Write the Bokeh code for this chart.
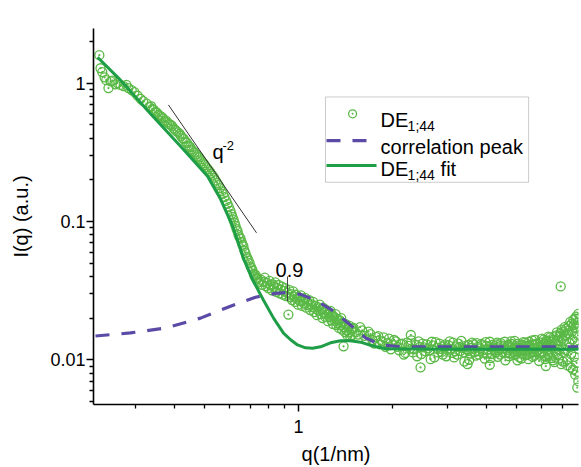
from bokeh.plotting import figure
from bokeh.models import Range1d, FixedTicker, CustomJSTickFormatter, Label, BoxAnnotation
from bokeh.embed import file_html
from bokeh.resources import INLINE

FONT = "Liberation Sans"

# ---------------- data ----------------
# measured points, low-q part
q_low = [0.230, 0.232, 0.235, 0.239, 0.242, 0.246, 0.250, 0.253, 0.259, 0.263,
         0.269, 0.275, 0.281, 0.285, 0.292, 0.298, 0.305, 0.312, 0.318, 0.326,
         0.333, 0.337, 0.340, 0.344, 0.348, 0.352, 0.356, 0.360, 0.364, 0.368,
         0.372, 0.376, 0.380, 0.385, 0.389, 0.393, 0.398, 0.402, 0.406, 0.411,
         0.416, 0.420, 0.425, 0.429, 0.434, 0.439, 0.444, 0.449, 0.454, 0.459,
         0.464, 0.470, 0.475, 0.480, 0.485, 0.490, 0.496, 0.501, 0.507, 0.513,
         0.519, 0.524, 0.530, 0.536, 0.542, 0.548, 0.554, 0.560, 0.567, 0.573,
         0.579, 0.586, 0.592, 0.598, 0.605, 0.610, 0.614, 0.619, 0.624, 0.628,
         0.633, 0.638, 0.642, 0.647, 0.652, 0.657, 0.661, 0.666, 0.671, 0.676,
         0.681, 0.686, 0.691, 0.697, 0.702, 0.707, 0.712, 0.718, 0.723, 0.728,
         0.733, 0.738, 0.744, 0.750]
I_low = [1.59, 1.28, 1.20, 1.10, 1.05, 0.92, 1.03, 1.04, 0.98, 1.00,
         0.97, 0.95, 0.97, 0.92, 0.89, 0.86, 0.81, 0.77, 0.74, 0.71,
         0.67, 0.68, 0.65, 0.64, 0.62, 0.61, 0.59, 0.58, 0.57, 0.555,
         0.53, 0.535, 0.52, 0.505, 0.50, 0.49, 0.47, 0.46, 0.45, 0.44,
         0.43, 0.415, 0.40, 0.395, 0.378, 0.37, 0.353, 0.345, 0.331, 0.322,
         0.315, 0.305, 0.295, 0.29, 0.281, 0.272, 0.263, 0.255, 0.246, 0.238,
         0.230, 0.222, 0.215, 0.207, 0.198, 0.19, 0.183, 0.174, 0.165, 0.158,
         0.150, 0.141, 0.134, 0.127, 0.119, 0.113, 0.108, 0.103, 0.0975, 0.093,
         0.088, 0.085, 0.080, 0.077, 0.075, 0.071, 0.068, 0.066, 0.0614, 0.059,
         0.0556, 0.054, 0.0521, 0.050, 0.0472, 0.046, 0.0442, 0.042, 0.0400, 0.041,
         0.0381, 0.039, 0.0362, 0.0365]

# measured points, shoulder region
q_mid = [0.757, 0.765, 0.772, 0.779, 0.786, 0.793, 0.800, 0.807, 0.814, 0.821,
         0.828, 0.835, 0.842, 0.849, 0.856, 0.863, 0.870, 0.877, 0.884, 0.891,
         0.898, 0.905, 0.912, 0.919, 0.928, 0.933, 0.940, 0.947, 0.954, 0.961,
         0.968, 0.975, 0.982, 0.989, 0.996, 1.003, 1.010, 1.018, 1.026, 1.034,
         1.042, 1.050, 1.058, 1.066, 1.074, 1.082, 1.090, 1.098, 1.106, 1.114,
         1.122, 1.130, 1.138, 1.146, 1.154, 1.162, 1.170, 1.178, 1.186, 1.194,
         1.202, 1.210, 1.218, 1.226, 1.234, 1.242, 1.250, 1.258, 1.266, 1.274,
         1.282, 1.290, 1.298, 1.306, 1.314, 1.322, 1.330, 1.338, 1.346, 1.354,
         1.362, 1.370, 1.378, 1.386, 1.394, 1.402, 1.410, 1.418, 1.426, 1.434,
         1.442, 1.450, 1.458, 1.466, 1.474, 1.482, 1.490]
I_mid = [0.0380, 0.0348, 0.0366, 0.0392, 0.0341, 0.0359, 0.0330, 0.0372, 0.0345, 0.0318,
         0.0350, 0.0336, 0.0362, 0.0310, 0.0329, 0.0347, 0.0302, 0.0321, 0.0338, 0.0296,
         0.0315, 0.0330, 0.0289, 0.0305, 0.0212, 0.0320, 0.0283, 0.0298, 0.0270, 0.0312,
         0.0286, 0.0262, 0.0295, 0.0277, 0.0250, 0.0283, 0.0266, 0.0292, 0.0245, 0.0270,
         0.0255, 0.0280, 0.0238, 0.0262, 0.0248, 0.0270, 0.0229, 0.0252, 0.0240, 0.0262,
         0.0221, 0.0246, 0.0233, 0.0210, 0.0240, 0.0226, 0.0250, 0.0214, 0.0231, 0.0200,
         0.0237, 0.0219, 0.0205, 0.0229, 0.0212, 0.0190, 0.0221, 0.0204, 0.0226, 0.0193,
         0.0210, 0.0181, 0.0205, 0.0192, 0.0214, 0.0178, 0.0197, 0.0184, 0.0170, 0.0193,
         0.0177, 0.0200, 0.0165, 0.0185, 0.0125, 0.0172, 0.0158, 0.0181, 0.0163, 0.0150,
         0.0172, 0.0158, 0.0176, 0.0146, 0.0163, 0.0151, 0.0168]

# measured points, high-q plateau (first set)
q_high_a = [1.50, 1.55, 1.60, 1.65, 1.70, 1.75, 1.80, 1.85, 1.90, 1.95,
            2.00, 2.05, 2.10, 2.15, 2.20, 2.25, 2.30, 2.35, 2.40, 2.45,
            2.50, 2.55, 2.60, 2.65, 2.70, 2.75, 2.80, 2.85, 2.90, 2.95,
            3.00, 3.05, 3.10, 3.15, 3.20, 3.25, 3.30, 3.35, 3.40, 3.45,
            3.50, 3.55, 3.60, 3.65, 3.70, 3.75, 3.80, 3.85, 3.90, 3.95,
            4.00, 4.05, 4.10, 4.15, 4.20, 4.25, 4.30, 4.35, 4.40, 4.45,
            4.50, 4.55, 4.60, 4.65, 4.70, 4.75, 4.80, 4.85, 4.90, 4.95,
            5.00, 5.05, 5.10, 5.15, 5.20, 5.25, 5.30, 5.35, 5.40, 5.45,
            5.50, 5.55, 5.60, 5.65, 5.70, 5.75, 5.80, 5.85, 5.90, 5.95,
            6.00, 6.05, 6.10, 6.15, 6.20, 6.25, 6.30, 6.35, 6.40, 6.45,
            6.50, 6.55, 6.60, 6.65, 6.70, 6.75, 6.80, 6.85, 6.90, 6.95,
            7.00, 7.05, 7.10, 7.15, 7.20, 7.25, 7.30, 7.35, 7.40, 7.45,
            7.50, 7.55, 7.60, 7.65, 7.70, 7.75, 7.80, 7.85, 7.88]
I_high_a = [0.0170, 0.0152, 0.0163, 0.0141, 0.0153, 0.0131, 0.0148, 0.0136, 0.0124, 0.0142,
            0.0128, 0.0136, 0.0117, 0.0131, 0.0112, 0.0126, 0.0138, 0.0119, 0.0106, 0.0124,
            0.0131, 0.0115, 0.0121, 0.0101, 0.0127, 0.0134, 0.0113, 0.0120, 0.0109, 0.0129,
            0.0118, 0.0136, 0.0112, 0.0104, 0.0125, 0.0131, 0.0116, 0.0122, 0.0097, 0.0119,
            0.0128, 0.0111, 0.0133, 0.0120, 0.0107, 0.0124, 0.0115, 0.0130, 0.0112, 0.0102,
            0.0126, 0.0119, 0.0135, 0.0110, 0.0123, 0.0116, 0.0129, 0.0105, 0.0121, 0.0132,
            0.0113, 0.0125, 0.0099, 0.0118, 0.0128, 0.0111, 0.0136, 0.0120, 0.0108, 0.0126,
            0.0115, 0.0131, 0.0104, 0.0122, 0.0117, 0.0134, 0.0110, 0.0125, 0.0119, 0.0101,
            0.0128, 0.0114, 0.0138, 0.0121, 0.0107, 0.0130, 0.0116, 0.0124, 0.0098, 0.0133,
            0.0112, 0.0127, 0.0140, 0.0106, 0.0122, 0.0136, 0.0110, 0.0129, 0.0145, 0.0103,
            0.0124, 0.0140, 0.0096, 0.0131, 0.0150, 0.0108, 0.0137, 0.0119, 0.0156, 0.0093,
            0.0142, 0.0160, 0.0112, 0.0148, 0.0168, 0.0100, 0.0155, 0.0175, 0.0123, 0.0088,
            0.0182, 0.0140, 0.0195, 0.0105, 0.0170, 0.0205, 0.0082, 0.0185, 0.0070]

# measured points, high-q plateau (second set)
q_high_b = [1.525, 1.575, 1.625, 1.675, 1.725, 1.775, 1.825, 1.875, 1.925, 1.975,
            2.025, 2.075, 2.125, 2.175, 2.225, 2.275, 2.325, 2.375, 2.425, 2.475,
            2.525, 2.575, 2.625, 2.675, 2.725, 2.775, 2.825, 2.875, 2.925, 2.975,
            3.025, 3.075, 3.125, 3.175, 3.225, 3.275, 3.325, 3.375, 3.425, 3.475,
            3.525, 3.575, 3.625, 3.675, 3.725, 3.775, 3.825, 3.875, 3.925, 3.975,
            4.025, 4.075, 4.125, 4.175, 4.225, 4.275, 4.325, 4.375, 4.425, 4.475,
            4.525, 4.575, 4.625, 4.675, 4.725, 4.775, 4.825, 4.875, 4.925, 4.975,
            5.025, 5.075, 5.125, 5.175, 5.225, 5.275, 5.325, 5.375, 5.425, 5.475,
            5.525, 5.575, 5.625, 5.675, 5.725, 5.775, 5.825, 5.875, 5.925, 5.975,
            6.025, 6.075, 6.125, 6.175, 6.225, 6.275, 6.325, 6.375, 6.425, 6.475,
            6.525, 6.575, 6.625, 6.675, 6.725, 6.775, 6.825, 6.875, 6.925, 6.975,
            7.025, 7.075, 7.125, 7.175, 7.225, 7.275, 7.325, 7.375, 7.425, 7.475,
            7.525, 7.575, 7.625, 7.675, 7.725, 7.775, 7.825, 7.875]
I_high_b = [0.0158, 0.0172, 0.0149, 0.0160, 0.0139, 0.0146, 0.0129, 0.0145, 0.0132, 0.0119,
            0.0139, 0.0124, 0.0130, 0.0109, 0.0133, 0.0120, 0.0113, 0.0128, 0.0136, 0.0110,
            0.0123, 0.0129, 0.0117, 0.0135, 0.0104, 0.0122, 0.0131, 0.0114, 0.0125, 0.0106,
            0.0127, 0.0120, 0.0133, 0.0115, 0.0109, 0.0124, 0.0137, 0.0113, 0.0126, 0.0118,
            0.0100, 0.0122, 0.0129, 0.0114, 0.0132, 0.0109, 0.0121, 0.0127, 0.0118, 0.0134,
            0.0111, 0.0124, 0.0103, 0.0128, 0.0120, 0.0113, 0.0133, 0.0117, 0.0109, 0.0127,
            0.0121, 0.0135, 0.0112, 0.0125, 0.0106, 0.0123, 0.0130, 0.0114, 0.0137, 0.0110,
            0.0122, 0.0127, 0.0116, 0.0102, 0.0128, 0.0119, 0.0133, 0.0108, 0.0124, 0.0135,
            0.0111, 0.0120, 0.0105, 0.0127, 0.0139, 0.0113, 0.0131, 0.0118, 0.0109, 0.0126,
            0.0142, 0.0114, 0.0130, 0.0101, 0.0138, 0.0119, 0.0147, 0.0107, 0.0127, 0.0135,
            0.0099, 0.0146, 0.0121, 0.0112, 0.0158, 0.0128, 0.0102, 0.0149, 0.0125, 0.0165,
            0.0097, 0.0138, 0.0172, 0.0118, 0.0151, 0.0091, 0.0163, 0.0132, 0.0188, 0.0110,
            0.0160, 0.0085, 0.0178, 0.0135, 0.0198, 0.0095, 0.0168, 0.0120]

# isolated outliers
q_out = [2.29, 2.46, 3.48, 4.10, 5.03, 6.20, 6.92, 7.70, 7.82, 7.86, 7.88]
I_out = [0.0151, 0.0088, 0.0093, 0.0092, 0.0099, 0.0090, 0.0339, 0.0078, 0.0063, 0.0150, 0.0215]

# fit curve
fit_q = [0.227, 0.2689, 0.3355, 0.428, 0.511, 0.5623, 0.6145, 0.6665, 0.7174, 0.7724,
         0.8316, 0.895, 0.943, 0.9926, 1.053, 1.109, 1.176, 1.266, 1.363, 1.468,
         1.580, 1.701, 1.900, 3.07, 7.89]
fit_I = [1.536, 1.05, 0.60, 0.331, 0.212, 0.145, 0.0929, 0.0539, 0.0368, 0.0269,
         0.0200, 0.0156, 0.01396, 0.0128, 0.0122, 0.0121, 0.0124, 0.01327, 0.01374, 0.0137,
         0.0134, 0.0127, 0.0120, 0.0119, 0.0119]

# correlation peak
peak_q = [0.2236, 0.2894, 0.3748, 0.4853, 0.6055, 0.728, 0.8437, 0.922, 1.015, 1.134,
          1.295, 1.468, 1.640, 1.832, 2.123, 7.89]
peak_I = [0.01486, 0.01563, 0.01696, 0.0200, 0.0244, 0.0283, 0.0302, 0.0307, 0.0297, 0.0269,
          0.0225, 0.0178, 0.0144, 0.0128, 0.0124, 0.0124]

x_major = [1]
x_minor = [0.3, 0.4, 0.5, 0.6, 0.7, 0.8, 0.9, 2, 3, 4, 5, 6, 7, 8]
y_major = [0.01, 0.1, 1]
y_minor = [0.005, 0.006, 0.007, 0.008, 0.009, 0.02, 0.03, 0.04, 0.05, 0.06, 0.07, 0.08, 0.09,
           0.2, 0.3, 0.4, 0.5, 0.6, 0.7, 0.8, 0.9, 2]

# ---------------- figure ----------------
SCAT = "#5ab946"
FIT = "#1f9e48"
PEAK = "#5b4aa6"

p = figure(width=581, height=467, x_axis_type="log", y_axis_type="log",
           x_range=Range1d(0.2203, 7.89), y_range=Range1d(0.00475, 2.48),
           output_backend="svg", toolbar_location=None,
           min_border_left=93, min_border_right=3, min_border_top=28, min_border_bottom=60)
p.outline_line_color = None
p.grid.visible = False

for ax in (p.xaxis[0], p.yaxis[0]):
    ax.axis_line_width = 1.6
    ax.axis_line_color = "black"
    ax.major_tick_out = 7
    ax.major_tick_in = 0
    ax.minor_tick_out = 4
    ax.minor_tick_in = 0
    ax.major_tick_line_width = 1.5
    ax.minor_tick_line_width = 1.3
    ax.major_label_text_font = FONT
    ax.major_label_text_font_size = "18px"
    ax.major_label_text_color = "black"
    ax.axis_label_text_font = FONT
    ax.axis_label_text_font_size = "20px"
    ax.axis_label_text_font_style = "normal"
    ax.axis_label_text_color = "black"
    ax.formatter = CustomJSTickFormatter(code="return tick.toString();")

p.xaxis[0].ticker = FixedTicker(ticks=x_major, minor_ticks=x_minor)
p.yaxis[0].ticker = FixedTicker(ticks=y_major, minor_ticks=y_minor)
p.xaxis[0].axis_label = "q(1/nm)"
p.yaxis[0].axis_label = "I(q) (a.u.)"
p.xaxis[0].major_label_standoff = 8
p.yaxis[0].major_label_standoff = 1
p.xaxis[0].axis_label_standoff = 7
p.yaxis[0].axis_label_standoff = 15

sc_kw = dict(marker="circle_dot", size=9, line_color=SCAT, line_width=1.3, fill_color=None)
p.scatter(q_low, I_low, **sc_kw)
p.scatter(q_mid, I_mid, **sc_kw)
p.scatter(q_high_a, I_high_a, **sc_kw)
p.scatter(q_high_b, I_high_b, **sc_kw)
p.scatter(q_out, I_out, **sc_kw)

p.line(peak_q, peak_I, line_color=PEAK, line_width=3.2, line_dash="14 12")
p.line(fit_q, fit_I, line_color=FIT, line_width=3)

# q^-2 guide line and annotation
p.line([0.383, 0.7334], [0.695, 0.0827], line_color="#333333", line_width=1)
p.add_layout(Label(x=0.530, y=0.320, text="q", text_font=FONT, text_font_size="20px",
                   text_baseline="alphabetic", text_align="left", text_color="black"))
p.add_layout(Label(x=0.5707, y=0.3535, text="-2", text_font=FONT, text_font_size="13px",
                   text_baseline="alphabetic", text_align="left", text_color="black"))

# peak position marker
p.line([0.922, 0.922], [0.040, 0.0265], line_color="#444444", line_width=1)
p.add_layout(Label(x=0.935, y=0.0442, text="0.9", text_font=FONT, text_font_size="20px",
                   text_baseline="alphabetic", text_align="center", text_color="black"))

# legend (drawn manually so that subscripts can be shown)
p.add_layout(BoxAnnotation(left=1.22, right=5.46, top=0.7935, bottom=0.1919,
                           fill_alpha=0, line_color="#555555", line_width=1,
                           level="underlay"))
p.scatter([1.49], [0.5995], marker="circle_dot", size=8, line_color=SCAT, line_width=1.3,
          fill_color=None)
p.line([1.229, 1.676], [0.3838, 0.3838], line_color=PEAK, line_width=3.2, line_dash="14 12")
p.line([1.229, 1.778], [0.2541, 0.2541], line_color=FIT, line_width=3)

lab = dict(text_font=FONT, text_baseline="alphabetic", text_align="left", text_color="black")
p.add_layout(Label(x=1.832, y=0.537, text="DE", text_font_size="20px", **lab))
p.add_layout(Label(x=2.236, y=0.486, text="1;44", text_font_size="14px", **lab))
p.add_layout(Label(x=1.832, y=0.3477, text="correlation peak", text_font_size="20px", **lab))
p.add_layout(Label(x=1.832, y=0.2378, text="DE", text_font_size="20px", **lab))
p.add_layout(Label(x=2.236, y=0.2154, text="1;44", text_font_size="14px", **lab))
p.add_layout(Label(x=2.852, y=0.2378, text="fit", text_font_size="20px", **lab))

open("out.html", "w").write(file_html(p, INLINE))
